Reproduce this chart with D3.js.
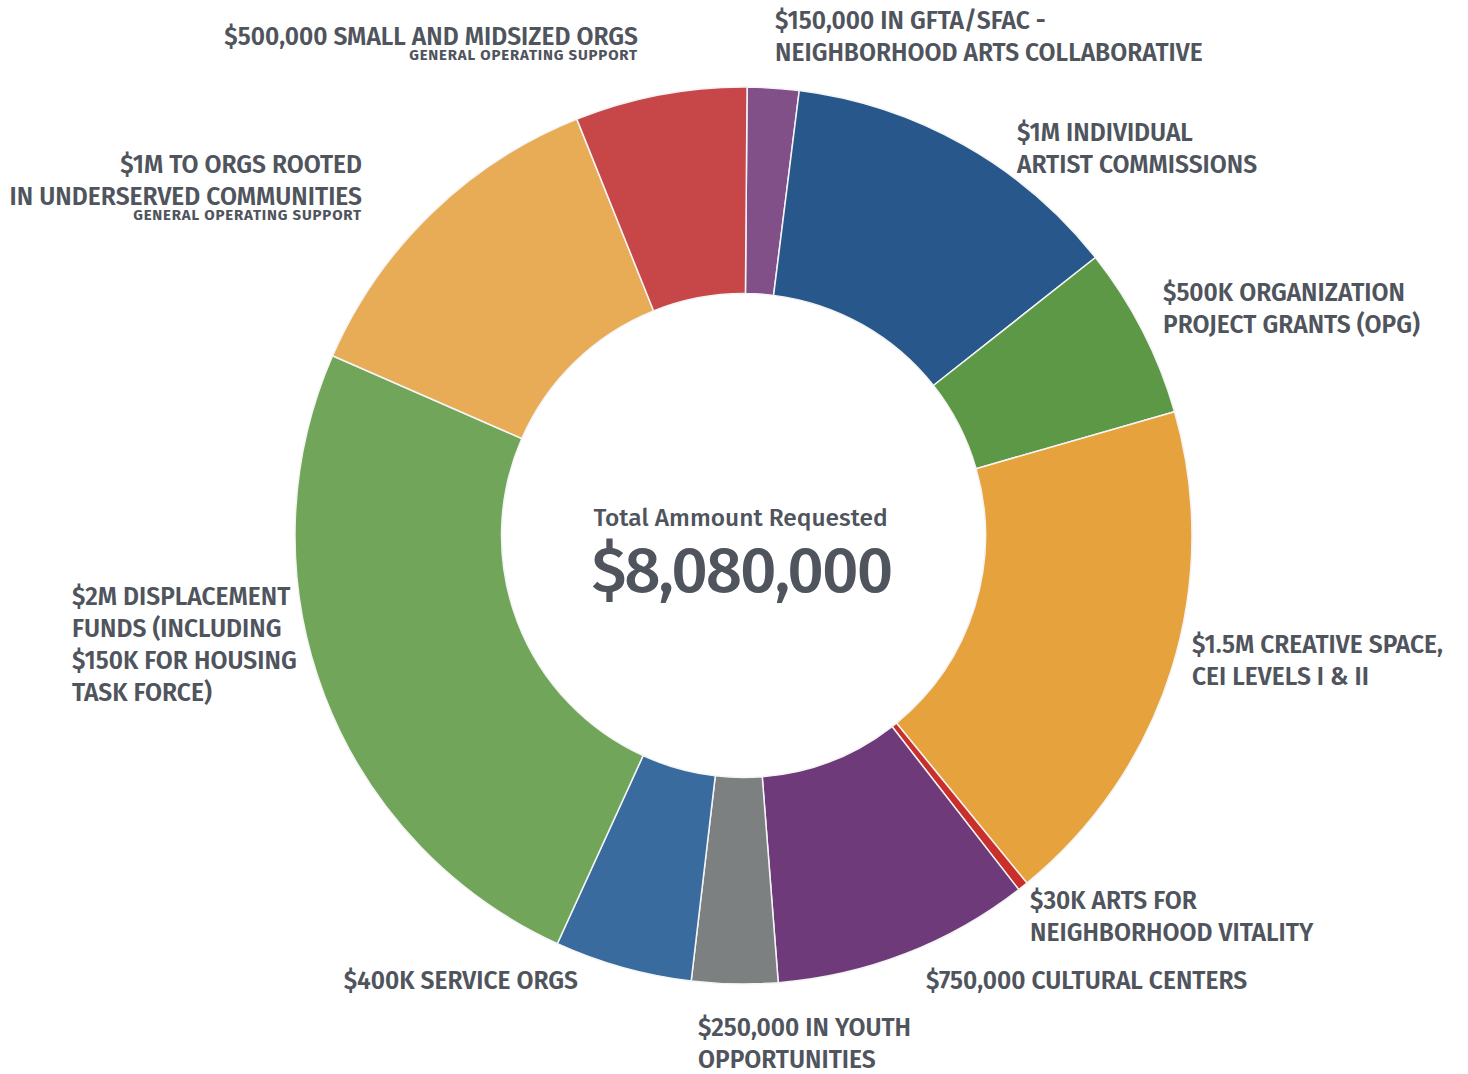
<!DOCTYPE html>
<html>
<head>
<meta charset="utf-8">
<script src="https://cdn.jsdelivr.net/npm/d3@7"></script>
<style>
  body { margin: 0; background: #fff; }
  text { font-family: "Fira Sans", "Roboto", sans-serif; fill: #4f545d; }
</style>
</head>
<body>
<div id="chart-area"></div>
<script>
// data
var categories = ["$150,000 IN GFTA/SFAC", "$1M INDIVIDUAL ARTIST COMMISSIONS", "$500K ORGANIZATION PROJECT GRANTS",
    "$1.5M CREATIVE SPACE", "$30K ARTS FOR NEIGHBORHOOD VITALITY", "$750,000 CULTURAL CENTERS",
    "$250,000 IN YOUTH OPPORTUNITIES", "$400K SERVICE ORGS", "$2M DISPLACEMENT FUNDS",
    "$1M TO ORGS ROOTED IN UNDERSERVED COMMUNITIES", "$500,000 SMALL AND MIDSIZED ORGS"];
var amounts = [150000, 1000000, 500000, 1500000, 30000, 750000, 250000, 400000, 2000000, 1000000, 500000];
var colors = ["#815089", "#28588b", "#5d9846", "#e6a33d", "#c9302c", "#6e3a7a",
    "#7d8080", "#3a6b9e", "#70a55a", "#e9ac56", "#c74648"];

// label text, one entry per slice
var labelLines = [
    ["$150,000 IN GFTA/SFAC -", "NEIGHBORHOOD ARTS COLLABORATIVE"],
    ["$1M INDIVIDUAL", "ARTIST COMMISSIONS"],
    ["$500K ORGANIZATION", "PROJECT GRANTS (OPG)"],
    ["$1.5M CREATIVE SPACE,", "CEI LEVELS I & II"],
    ["$30K ARTS FOR", "NEIGHBORHOOD VITALITY"],
    ["$750,000 CULTURAL CENTERS"],
    ["$250,000 IN YOUTH", "OPPORTUNITIES"],
    ["$400K SERVICE ORGS"],
    ["$2M DISPLACEMENT", "FUNDS (INCLUDING", "$150K FOR HOUSING", "TASK FORCE)"],
    ["$1M TO ORGS ROOTED", "IN UNDERSERVED COMMUNITIES"],
    ["$500,000 SMALL AND MIDSIZED ORGS"]
];
var subLabels = ["", "", "", "", "", "", "", "", "", "GENERAL OPERATING SUPPORT", "GENERAL OPERATING SUPPORT"];

var totalLabel = "Total Ammount Requested";

// layout of the labels (page coords of first baseline)
var labelPos = [
    { x: 775, y: 29, anchor: "start" },
    { x: 1017, y: 141, anchor: "start" },
    { x: 1163, y: 301, anchor: "start" },
    { x: 1192, y: 653, anchor: "start" },
    { x: 1030, y: 909, anchor: "start" },
    { x: 926, y: 989, anchor: "start" },
    { x: 698, y: 1036, anchor: "start" },
    { x: 578, y: 989, anchor: "end" },
    { x: 72, y: 605, anchor: "start" },
    { x: 362, y: 173, anchor: "end" },
    { x: 638, y: 45, anchor: "end" }
];

var width = 1468, height = 1074;
var cx = 743.5, cy = 535.5;
var outerR = 448.5, innerR = 242;

var svg = d3.select("#chart-area")
    .append("svg")
        .attr("width", width)
        .attr("height", height);

var g = svg.append("g")
    .attr("transform", "translate(" + cx + "," + cy + ")");

var total = d3.sum(amounts);

var pie = d3.pie()
    .sort(null)
    .startAngle(0.008)
    .endAngle(0.008 + 2 * Math.PI)
    .value(function(d) { return d; });

var arc = d3.arc()
    .innerRadius(innerR)
    .outerRadius(outerR);

g.selectAll("path.slice")
    .data(pie(amounts))
    .enter()
    .append("path")
        .attr("class", "slice")
        .attr("d", arc)
        .attr("fill", function(d, i) { return colors[i]; })
        .attr("stroke", "#f4f4f4")
        .attr("stroke-width", 1.5);

// center text
g.append("text")
    .attr("x", -3)
    .attr("y", -10)
    .attr("text-anchor", "middle")
    .attr("font-size", "24.5px")
    .attr("font-weight", 500)
    .text(totalLabel);

g.append("text")
    .attr("x", -2)
    .attr("y", 56)
    .attr("text-anchor", "middle")
    .attr("font-size", "64px")
    .attr("font-weight", 500)
    .attr("letter-spacing", "-2px")
    .text(d3.format("$,")(total));

// slice labels
var labels = svg.selectAll("g.label")
    .data(labelLines)
    .enter()
    .append("g")
        .attr("class", "label");

labels.each(function(lines, i) {
    var p = labelPos[i];
    var t = d3.select(this).append("text")
        .attr("text-anchor", p.anchor)
        .attr("font-size", "24.6px")
        .attr("font-weight", 600);
    lines.forEach(function(line, j) {
        t.append("tspan")
            .attr("x", p.x)
            .attr("y", p.y + j * 32)
            .text(line);
    });
    if (subLabels[i]) {
        d3.select(this).append("text")
            .attr("x", p.x)
            .attr("y", p.y + (lines.length - 1) * 32 + 15)
            .attr("text-anchor", "end")
            .attr("font-size", "15px")
            .attr("font-weight", 700)
            .attr("letter-spacing", "0.8px")
            .text(subLabels[i]);
    }
});
</script>
</body>
</html>
